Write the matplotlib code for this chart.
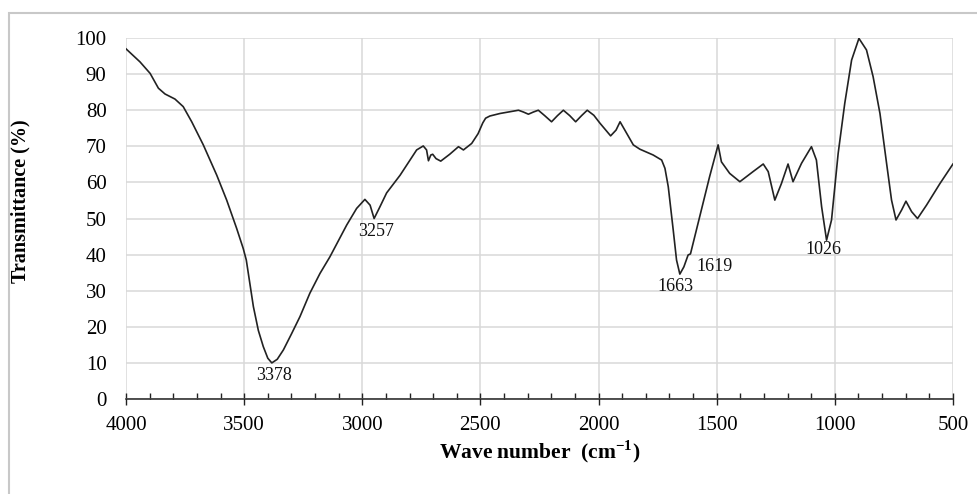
import matplotlib
matplotlib.use("Agg")
import matplotlib.pyplot as plt
from matplotlib.patches import Rectangle
from matplotlib.ticker import MultipleLocator

plt.rcParams['font.family'] = ['Liberation Serif', 'DejaVu Serif']
plt.rcParams['mathtext.fontset'] = 'custom'
plt.rcParams['mathtext.rm'] = 'Liberation Serif'
plt.rcParams['mathtext.bf'] = 'Liberation Serif:bold'

# FTIR spectrum
wavenumber = [4000, 3941, 3898, 3863, 3835, 3793, 3758, 3722, 3673, 3616, 3574,
              3532, 3504, 3491, 3461, 3440, 3419, 3400, 3383, 3360, 3334, 3300,
              3264, 3222, 3179, 3137, 3066, 3024, 2989, 2967, 2950, 2925, 2897,
              2840, 2770, 2742, 2728, 2720, 2710, 2702, 2688, 2668, 2630, 2593,
              2572, 2537, 2510, 2490, 2478, 2460, 2417, 2339, 2318, 2297, 2276,
              2255, 2228, 2199, 2174, 2149, 2122, 2097, 2072, 2048, 2020, 1994,
              1949, 1926, 1909, 1881, 1853, 1825, 1769, 1733, 1719, 1705, 1684,
              1670, 1656, 1639, 1621, 1611, 1572, 1530, 1494, 1480, 1445, 1402,
              1346, 1303, 1282, 1254, 1226, 1198, 1177, 1141, 1099, 1078, 1056,
              1035, 1014, 986, 958, 929, 898, 866, 838, 809, 781, 760, 741, 717,
              699, 675, 650, 612, 555, 500]
transmittance = [97.0, 93.4, 90.2, 86.1, 84.5, 83.1, 81.0, 76.8, 70.4, 62.0, 55.1,
                 47.3, 41.7, 38.5, 25.6, 19.0, 14.5, 11.3, 10.0, 11.0, 13.6, 18.0,
                 22.8, 29.3, 34.8, 39.4, 48.2, 52.8, 55.3, 53.7, 50.0, 53.3, 57.1,
                 62.0, 69.0, 70.1, 69.0, 66.0, 67.6, 67.8, 66.6, 65.9, 67.8, 69.9,
                 69.0, 70.8, 73.5, 76.5, 77.8, 78.4, 79.1, 80.0, 79.5, 78.9, 79.5,
                 80.0, 78.5, 76.8, 78.5, 80.0, 78.5, 76.8, 78.5, 80.0, 78.6, 76.4,
                 72.9, 74.5, 76.8, 73.6, 70.4, 69.2, 67.6, 66.2, 63.9, 58.8, 46.8,
                 38.5, 34.6, 36.6, 39.9, 40.2, 50.5, 61.6, 70.4, 65.7, 62.5, 60.2,
                 63.0, 65.1, 63.0, 55.1, 59.7, 65.1, 60.2, 65.3, 69.9, 66.2, 53.3,
                 44.0, 49.6, 68.0, 81.9, 93.9, 99.9, 96.7, 89.3, 79.1, 65.3, 55.1,
                 49.6, 52.4, 54.8, 51.9, 50.0, 53.7, 59.7, 65.1]

peak_labels = ['3378', '3257', '1663', '1619', '1026']
label_x = [3375, 2942, 1673, 1508, 1049]
label_y = [6.5, 46.3, 31.1, 36.8, 41.3]

fig = plt.figure(figsize=(9.77, 4.94), dpi=100)
ax = fig.add_axes([0.129, 0.1923, 0.8464, 0.7307])

ax.plot(wavenumber, transmittance, color='#222222', lw=1.2)

for t, x, y in zip(peak_labels, label_x, label_y):
    ax.text(x, y, t, ha='center', va='center', fontsize=13, color='#111111')

ax.set_xlim(4000, 500)
ax.set_ylim(0, 100)
ax.xaxis.set_major_locator(MultipleLocator(500))
ax.xaxis.set_minor_locator(MultipleLocator(100))
ax.yaxis.set_major_locator(MultipleLocator(10))

ax.grid(True, which='major', color='#d9d9d9', lw=1.1)
ax.set_axisbelow(True)
for s in ['top', 'left', 'right']:
    ax.spines[s].set_visible(False)
ax.spines['bottom'].set_color('#222222')
ax.spines['bottom'].set_linewidth(1.1)

ax.tick_params(axis='x', which='major', direction='inout', length=8, width=1,
               color='#222222', labelsize=15, pad=8)
ax.tick_params(axis='x', which='minor', direction='in', length=4, width=1,
               color='#222222')
ax.tick_params(axis='y', length=0, labelsize=15, pad=14)

ax.set_xlabel(r'Wave number  (cm$^{\mathbf{-1}}$)', fontsize=15.5, fontweight='bold',
              labelpad=3)
ax.set_ylabel('Transmittance (%)', fontsize=14.5, fontweight='bold')
ax.yaxis.set_label_coords(-0.116, 0.548)

# light frame around the chart area
fig.patches.append(Rectangle((9 / 977, -0.1), 1.2, (494 - 13) / 494 + 0.1,
                             transform=fig.transFigure, fill=False,
                             edgecolor='#c8c8c8', lw=1.5))

fig.savefig('out.png', dpi=100)
